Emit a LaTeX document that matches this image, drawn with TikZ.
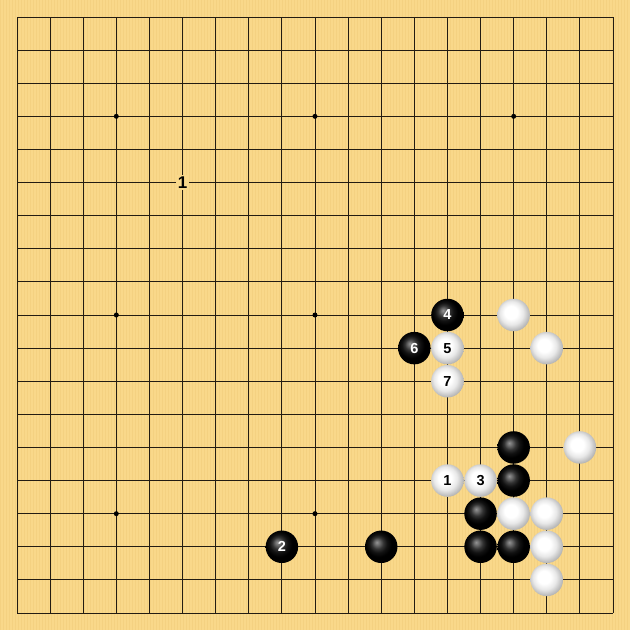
\documentclass[tikz,border=0pt]{standalone}
\usepackage{fontspec}
\setmainfont{Liberation Sans}
\definecolor{board}{RGB}{249,216,138}
\definecolor{stripe}{RGB}{236,198,114}
\definecolor{gridc}{RGB}{35,28,18}
\pgfdeclareradialshading{whitestone}{\pgfpoint{-5bp}{5bp}}{color(0bp)=(white); color(10bp)=(white); color(18bp)=(black!9); color(25bp)=(black!25); color(31bp)=(black!38); color(50bp)=(black!40)}
\pgfdeclareradialshading{blackstone}{\pgfpoint{-7bp}{7bp}}{color(0bp)=(black!42); color(4bp)=(black!58); color(9bp)=(black!80); color(14bp)=(black!93); color(20bp)=(black); color(50bp)=(black)}
\begin{document}
\begin{tikzpicture}[x=1pt,y=-1pt,
  stoneb/.style={circle,minimum size=32.5pt,inner sep=0pt,shading=blackstone,text=white,font=\bfseries\fontsize{14.5}{14.5}\selectfont},
  stonew/.style={circle,minimum size=32.5pt,inner sep=0pt,shading=whitestone,text=black,font=\bfseries\fontsize{14.5}{14.5}\selectfont},
  boardlabel/.style={fill=board,inner sep=1.5pt,text=black,font=\bfseries\fontsize{17}{17}\selectfont},
  gridline/.style={draw=gridc,line width=0.9pt},
  starpt/.style={circle,fill=black,inner sep=0pt,minimum size=5pt}]
\useasboundingbox (0,0) rectangle (630,630);
\fill[board] (0,0) rectangle (630,630);
\foreach \k in {0,3,...,627}{\fill[stripe,opacity=0.35] (\k,0) rectangle ++(1,630);}
\def\gs{33.111}
\foreach \i in {0,...,18}{
  \draw[gridline] (17+\gs*\i,17) -- (17+\gs*\i,613);
  \draw[gridline] (17,17+\gs*\i) -- (613,17+\gs*\i);
}
\foreach \i/\j in {3/3,9/3,15/3,3/9,9/9,15/9,3/15,9/15,15/15}{
  \node[starpt] (star-\i-\j) at (17+\gs*\i,17+\gs*\j) {};
}
\node[boardlabel] (lbl1) at (17+\gs*5,17+\gs*5) {1};
% black stones
\foreach \i/\j/\t in {13/9/4,12/10/6,15/13/,15/14/,14/15/,8/16/2,11/16/,14/16/,15/16/}{
  \node[stoneb] (b-\i-\j) at (17+\gs*\i,17+\gs*\j) {\t};
}
% white stones
\foreach \i/\j/\t in {15/9/,13/10/5,16/10/,13/11/7,17/13/,13/14/1,14/14/3,15/15/,16/15/,16/16/,16/17/}{
  \node[stonew] (w-\i-\j) at (17+\gs*\i,17+\gs*\j) {\t};
}
\end{tikzpicture}
\end{document}
